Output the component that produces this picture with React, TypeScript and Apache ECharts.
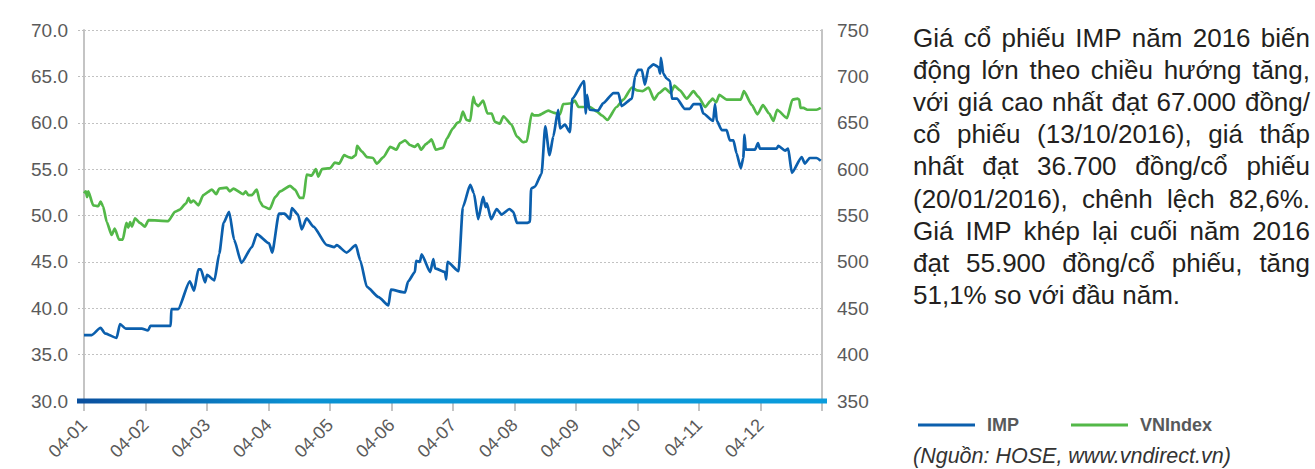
import React, { useEffect, useRef } from 'react';
import * as echarts from 'echarts';

// ---------- data ----------
const monthLabels = ['04-01', '04-02', '04-03', '04-04', '04-05', '04-06', '04-07', '04-08', '04-09', '04-10', '04-11', '04-12'];

// [month position, price (thousand VND)]
const impPoints: [number, number][] = [
  [0, 37.1], [0.125, 37.1], [0.27, 37.9], [0.34, 37.3], [0.53, 36.8], [0.585, 38.3], [0.68, 37.8], [0.94, 37.8],
  [1.04, 37.6], [1.08, 38.1], [1.41, 38.1], [1.42, 39.9], [1.53, 39.9], [1.72, 42.9], [1.79, 41.9], [1.86, 44.2],
  [1.9, 44.2], [1.97, 42.8], [2.0, 43.6], [2.12, 43.0], [2.2, 45.9], [2.27, 49.2], [2.36, 50.4], [2.44, 47.4],
  [2.56, 44.9], [2.73, 46.6], [2.81, 48.0], [3.01, 47.0], [3.06, 46.0], [3.17, 50.2], [3.26, 50.2], [3.35, 49.6],
  [3.38, 50.8], [3.48, 50.1], [3.54, 48.5], [3.62, 49.7], [3.73, 48.8], [3.95, 46.8], [4.07, 46.6], [4.11, 46.8],
  [4.27, 46.0], [4.42, 46.8], [4.49, 45.2], [4.6, 42.3], [4.79, 41.2], [4.95, 40.3], [4.99, 42.0], [5.22, 41.7],
  [5.27, 42.9], [5.38, 43.9], [5.4, 45.1], [5.46, 45.0], [5.49, 45.8], [5.63, 43.9], [5.68, 45.3], [5.71, 44.3],
  [5.87, 43.9], [5.89, 43.1], [5.91, 45.0], [6.09, 44.0], [6.16, 50.9], [6.28, 53.3], [6.34, 52.4], [6.41, 49.6],
  [6.49, 52.0], [6.53, 50.9], [6.55, 51.3], [6.62, 49.6], [6.71, 50.7], [6.79, 50.1], [6.92, 50.7], [6.98, 50.4],
  [7.04, 49.2], [7.2, 49.2], [7.25, 49.3], [7.27, 52.9], [7.33, 53.1], [7.44, 54.5], [7.5, 59.6], [7.57, 56.5],
  [7.63, 58.5], [7.71, 61.4], [7.74, 59.4], [7.82, 59.8], [7.9, 59.0], [7.94, 62.6], [8.13, 64.5], [8.16, 61.0],
  [8.18, 63.0], [8.22, 61.4], [8.36, 61.3], [8.44, 62.1], [8.61, 63.2], [8.69, 63.2], [8.74, 61.8], [8.91, 62.6],
  [8.96, 65.0], [9.01, 65.7], [9.07, 65.7], [9.12, 64.1], [9.18, 65.9], [9.26, 66.3], [9.34, 66.0], [9.37, 65.3],
  [9.38, 67.0], [9.42, 65.3], [9.47, 64.8], [9.53, 64.5], [9.56, 62.6], [9.64, 62.6], [9.77, 61.5], [9.85, 61.5],
  [9.91, 62.0], [10.02, 62.0], [10.07, 61.0], [10.23, 60.2], [10.26, 62.0], [10.29, 60.2], [10.37, 59.2], [10.45, 59.2],
  [10.5, 58.1], [10.56, 58.1], [10.61, 56.7], [10.68, 55.1], [10.72, 56.2], [10.74, 58.7], [10.76, 57.1], [10.91, 57.1],
  [10.96, 57.8], [10.99, 57.2], [11.26, 57.2], [11.29, 57.5], [11.4, 57.0], [11.45, 57.2], [11.51, 54.6], [11.67, 56.3],
  [11.72, 55.6], [11.8, 56.2], [11.91, 56.2], [11.98, 55.9],
];

// [month position, index points]
const vnPoints: [number, number][] = [
  [0, 574], [0.03, 576], [0.05, 570], [0.07, 576], [0.15, 561], [0.23, 560], [0.27, 565], [0.31, 560],
  [0.37, 543], [0.45, 529], [0.5, 536], [0.57, 524], [0.63, 524], [0.69, 542], [0.72, 537], [0.75, 543],
  [0.78, 538], [0.83, 547], [0.91, 542], [0.99, 538], [1.05, 545], [1.37, 544], [1.48, 554], [1.55, 556],
  [1.66, 563], [1.7, 569], [1.73, 564], [1.78, 566], [1.86, 561], [1.94, 572], [2.08, 578], [2.15, 573],
  [2.2, 579], [2.32, 580], [2.37, 576], [2.43, 579], [2.59, 573], [2.63, 576], [2.67, 572], [2.73, 572],
  [2.81, 578], [2.86, 565], [2.91, 560], [3.02, 557], [3.11, 570], [3.19, 576], [3.35, 582], [3.43, 578],
  [3.51, 569], [3.57, 569], [3.62, 594], [3.7, 593], [3.77, 600], [3.81, 592], [3.87, 600], [4.0, 601],
  [4.08, 607], [4.15, 606], [4.23, 615], [4.3, 613], [4.35, 612], [4.42, 615], [4.44, 625], [4.52, 619],
  [4.6, 613], [4.7, 612], [4.76, 606], [4.87, 613], [4.98, 624], [5.08, 621], [5.14, 628], [5.22, 631],
  [5.3, 626], [5.38, 624], [5.43, 627], [5.48, 621], [5.56, 627], [5.6, 629], [5.65, 632], [5.72, 621],
  [5.84, 623], [5.9, 633], [6.0, 644], [6.07, 650], [6.11, 651], [6.16, 662], [6.22, 653], [6.28, 652],
  [6.33, 678], [6.36, 671], [6.41, 668], [6.49, 674], [6.56, 660], [6.63, 660], [6.68, 651], [6.76, 649],
  [6.82, 657], [6.95, 648], [7.04, 635], [7.14, 629], [7.2, 630], [7.28, 660], [7.31, 658], [7.39, 658],
  [7.55, 663], [7.63, 661], [7.74, 659], [7.79, 670], [7.93, 671], [7.98, 674], [8.04, 667], [8.23, 667],
  [8.34, 662], [8.42, 658], [8.51, 653], [8.66, 667], [8.77, 675], [8.91, 688], [8.99, 685], [9.08, 684],
  [9.18, 688], [9.27, 675], [9.35, 682], [9.45, 687], [9.54, 682], [9.6, 690], [9.69, 685], [9.8, 676],
  [9.91, 684], [9.99, 678], [10.1, 667], [10.18, 673], [10.22, 676], [10.28, 672], [10.33, 680], [10.45, 675],
  [10.68, 675], [10.73, 684], [10.86, 669], [10.95, 659], [11.04, 669], [11.14, 660], [11.21, 652], [11.27, 664],
  [11.43, 655], [11.52, 675], [11.6, 676], [11.63, 675], [11.65, 666], [11.7, 666], [11.76, 664], [11.91, 664],
  [11.98, 666],
];

const seriesNames = ['IMP', 'VNIndex'];
const leftAxisRange = [30, 70, 5];
const rightAxisRange = [350, 750, 50];

const paragraphLines = [
  'Giá cổ phiếu IMP năm 2016 biến',
  'động lớn theo chiều hướng tăng,',
  'với giá cao nhất đạt 67.000 đồng/',
  'cổ phiếu (13/10/2016), giá thấp',
  'nhất đạt 36.700 đồng/cổ phiếu',
  '(20/01/2016), chênh lệch 82,6%.',
  'Giá IMP khép lại cuối năm 2016',
  'đạt 55.900 đồng/cổ phiếu, tăng',
  '51,1% so với đầu năm.',
];
const sourceNote = '(Nguồn: HOSE, www.vndirect.vn)';

// ---------- styling ----------
const FONT = '"Liberation Sans", Arial, Helvetica, sans-serif';
const IMP_COLOR = '#0b5fad';
const VN_COLOR = '#53b848';
const AXIS_TEXT = '#5a5a5a';

function buildParagraph(): any[] {
  const fs = 26;
  const left = 913;
  const right = 1310;
  const firstY = 38;
  const lh = 32.1;
  const ctx = document.createElement('canvas').getContext('2d') as CanvasRenderingContext2D;
  ctx.font = `${fs}px "Liberation Sans"`;
  const space = ctx.measureText(' ').width;
  const els: any[] = [];
  paragraphLines.forEach((line, i) => {
    const y = firstY + lh * i;
    const words = line.split(' ');
    const widths = words.map((w) => ctx.measureText(w).width);
    const total = widths.reduce((a, b) => a + b, 0);
    const isLast = i === paragraphLines.length - 1;
    let gap = isLast || words.length < 2 ? space : (right - left - total) / (words.length - 1);
    if (gap < space * 0.5) gap = space * 0.5;
    let x = left;
    words.forEach((w, j) => {
      els.push({
        type: 'text',
        x,
        y,
        silent: true,
        style: {
          text: w,
          fontSize: fs,
          fontFamily: FONT,
          fill: '#231f20',
          align: 'left',
          verticalAlign: 'middle',
        },
      });
      x += widths[j] + gap;
    });
  });
  return els;
}

export default function App() {
  const ref = useRef<HTMLDivElement>(null);

  useEffect(() => {
    if (!ref.current) return;
    const chart = echarts.init(ref.current, undefined, { renderer: 'svg' });

    const option: any = {
      animation: false,
      backgroundColor: '#ffffff',
      grid: { left: 84, right: 493, top: 30, bottom: 68, containLabel: false },
      legend: {
        data: seriesNames,
        left: 913,
        top: 411,
        icon: 'rect',
        itemWidth: 57,
        itemHeight: 3,
        itemGap: 52,
        textStyle: {
          fontFamily: FONT,
          fontWeight: 'bold',
          fontSize: 18,
          color: '#58595b',
          padding: [0, 0, 0, 7],
        },
      },
      xAxis: {
        type: 'value',
        min: 0,
        max: 12,
        interval: 1,
        axisLine: { show: false },
        axisTick: { show: true, length: 10, lineStyle: { color: '#c4c4c4', width: 2 } },
        splitLine: { show: false },
        axisLabel: {
          rotate: 45,
          margin: 21,
          fontSize: 18,
          fontFamily: FONT,
          color: AXIS_TEXT,
          formatter: (v: number) => monthLabels[Math.round(v)] ?? '',
        },
      },
      yAxis: [
        {
          type: 'value',
          position: 'left',
          min: leftAxisRange[0],
          max: leftAxisRange[1],
          interval: leftAxisRange[2],
          axisLine: { show: true, lineStyle: { color: '#c4c4c4', width: 2 } },
          axisTick: { show: true, length: 7, lineStyle: { color: '#bdbdbd', width: 1, type: [2, 2] } },
          splitLine: { show: true, lineStyle: { color: '#c2c2c2', width: 1, type: [2, 2] } },
          axisLabel: {
            margin: 16,
            fontSize: 19,
            fontFamily: FONT,
            color: AXIS_TEXT,
            formatter: (v: number) => v.toFixed(1),
          },
        },
        {
          type: 'value',
          position: 'right',
          min: rightAxisRange[0],
          max: rightAxisRange[1],
          interval: rightAxisRange[2],
          axisLine: { show: true, lineStyle: { color: '#c4c4c4', width: 2 } },
          axisTick: { show: false },
          splitLine: { show: false },
          axisLabel: {
            margin: 15,
            fontSize: 19,
            fontFamily: FONT,
            color: AXIS_TEXT,
          },
        },
      ],
      series: [
        {
          name: seriesNames[0],
          type: 'line',
          yAxisIndex: 0,
          data: impPoints,
          showSymbol: false,
          smooth: 0.2,
          smoothMonotone: 'x',
          z: 4,
          color: IMP_COLOR,
          lineStyle: { width: 2.7, color: IMP_COLOR },
        },
        {
          name: seriesNames[1],
          type: 'line',
          yAxisIndex: 1,
          data: vnPoints,
          showSymbol: false,
          smooth: 0.2,
          smoothMonotone: 'x',
          z: 3,
          color: VN_COLOR,
          lineStyle: { width: 2.7, color: VN_COLOR },
        },
      ],
      graphic: [
        {
          type: 'rect',
          z: 100,
          silent: true,
          shape: { x: 77, y: 398.5, width: 750, height: 5 },
          style: {
            fill: new echarts.graphic.LinearGradient(0, 0, 1, 0, [
              { offset: 0, color: '#0a4f9e' },
              { offset: 0.3, color: '#0b92d3' },
              { offset: 1, color: '#0a9cdc' },
            ]),
          },
        },
        ...buildParagraph(),
        {
          type: 'text',
          x: 913,
          y: 456,
          silent: true,
          style: {
            text: sourceNote,
            fontSize: 21.5,
            fontStyle: 'italic',
            fontFamily: FONT,
            fill: '#333333',
            align: 'left',
            verticalAlign: 'middle',
          },
        },
      ],
    };

    chart.setOption(option);
    return () => chart.dispose();
  }, []);

  return (
    <div
      ref={ref}
      style={{ position: 'absolute', left: 0, top: 0, width: 1315, height: 469, background: '#fff' }}
    />
  );
}
